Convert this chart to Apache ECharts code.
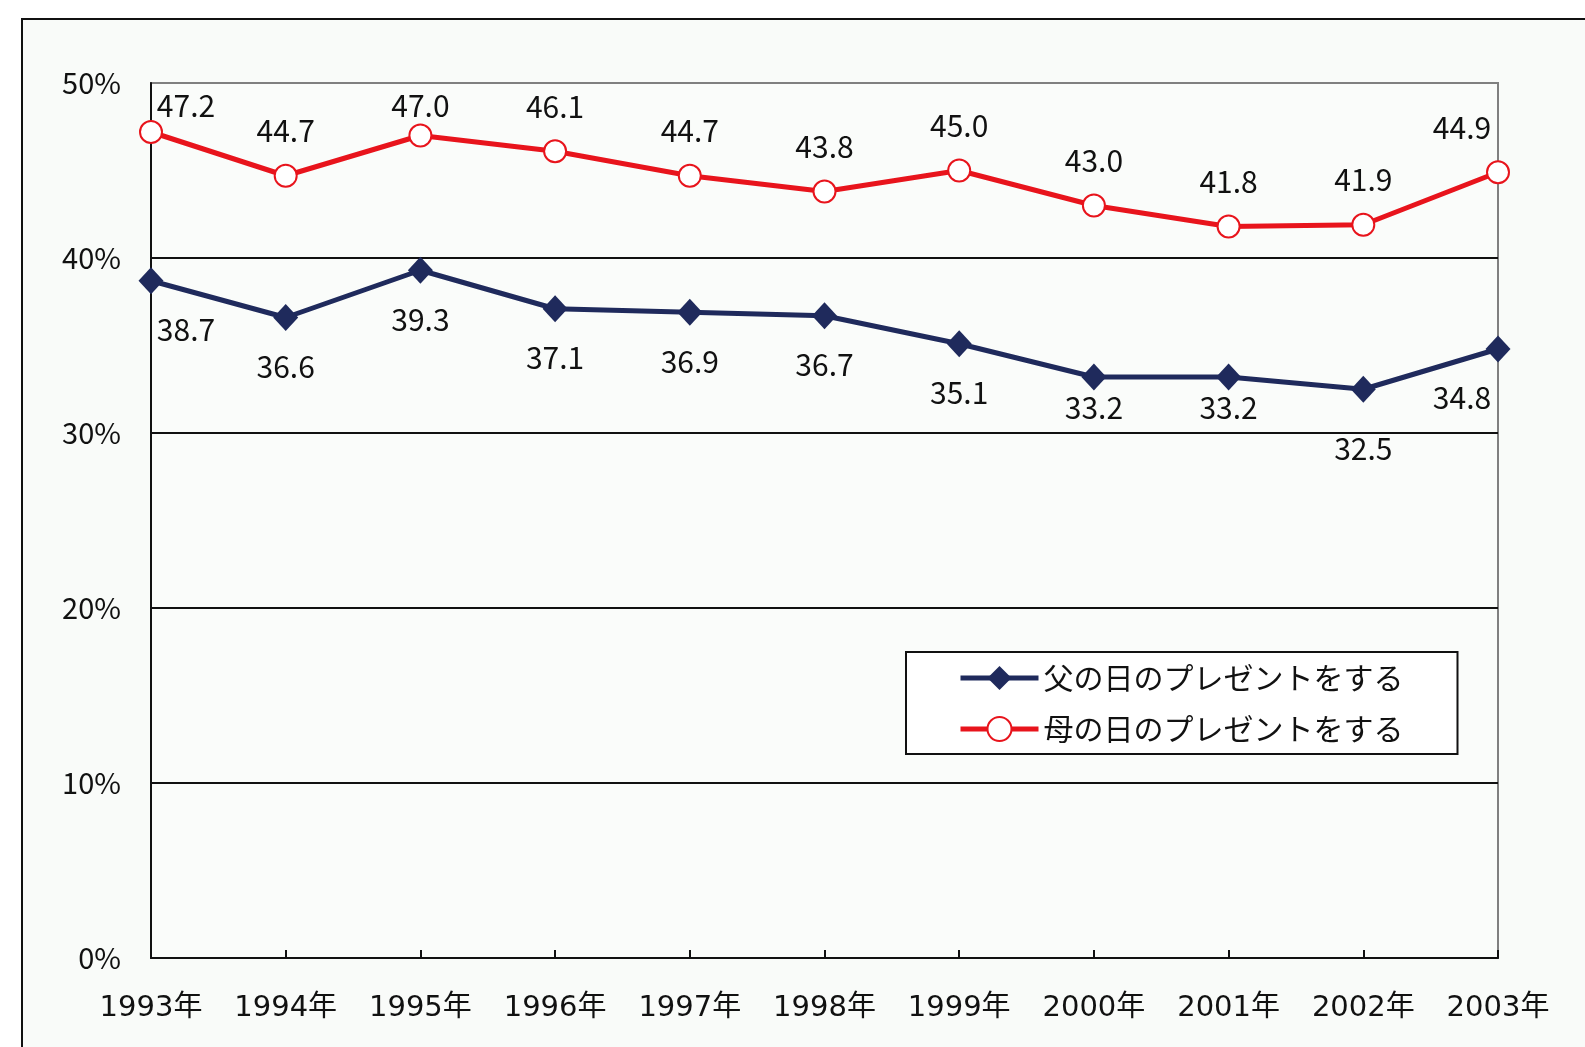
<!DOCTYPE html>
<html>
<head>
<meta charset="utf-8">
<script src="https://cdn.jsdelivr.net/npm/echarts@6/dist/echarts.min.js"></script>
<style>
  html, body { margin: 0; padding: 0; background: #ffffff; }
  #chart { width: 1585px; height: 1047px; }
</style>
</head>
<body>
<div id="chart"></div>
<script>
// ---- data ----
const years = ['1993年','1994年','1995年','1996年','1997年','1998年','1999年','2000年','2001年','2002年','2003年'];
const fatherValues = [38.7, 36.6, 39.3, 37.1, 36.9, 36.7, 35.1, 33.2, 33.2, 32.5, 34.8];
const motherValues = [47.2, 44.7, 47.0, 46.1, 44.7, 43.8, 45.0, 43.0, 41.8, 41.9, 44.9];
const seriesNames = ['父の日のプレゼントをする', '母の日のプレゼントをする'];
const yMin = 0, yMax = 50, yStep = 10;

// ---- style ----
const FONT = "'Noto Sans CJK JP', 'Liberation Sans', sans-serif";
const XFONT = "'DejaVu Sans', 'Noto Sans CJK JP', sans-serif";
const NAVY = '#1f2a5c';
const RED = '#e8141c';
const GRID = { left: 151, top: 83, right: 87, bottom: 89 };
const W = 1585, H = 1047;

const chart = echarts.init(document.getElementById('chart'), null, { renderer: 'canvas' });

const baseLabel = {
  show: true,
  position: 'inside',
  color: '#111',
  fontSize: 30,
  fontFamily: FONT,
  formatter: p => Number(p.value).toFixed(1)
};

const option = {
  animation: false,
  backgroundColor: '#ffffff',
  graphic: [{
    type: 'rect',
    z: -10,
    shape: { x: 22, y: 19, width: 1700, height: 1200 },
    style: { fill: '#f9fbf9', stroke: '#111', lineWidth: 2 }
  }],
  grid: {
    left: GRID.left, top: GRID.top, right: GRID.right, bottom: GRID.bottom,
    show: true,
    backgroundColor: '#fafcfa',
    borderColor: '#808080',
    borderWidth: 2
  },
  legend: {
    data: seriesNames,
    orient: 'vertical',
    left: 906,
    top: 652,
    padding: [10, 54, 9, 52],
    itemGap: 19,
    itemWidth: 78,
    itemHeight: 30,
    backgroundColor: '#ffffff',
    borderColor: '#111',
    borderWidth: 2,
    lineStyle: { width: 5 },
    textStyle: { color: '#111', fontSize: 30, fontFamily: FONT, lineHeight: 32 }
  },
  xAxis: {
    type: 'category',
    data: years,
    boundaryGap: false,
    axisLine: { show: true, lineStyle: { color: '#111', width: 2 } },
    axisTick: { show: true, inside: true, length: 8, lineStyle: { color: '#111', width: 2 } },
    axisLabel: { color: '#111', fontSize: 29, fontFamily: XFONT, margin: 36 },
    splitLine: { show: false }
  },
  yAxis: {
    type: 'value',
    min: yMin, max: yMax, interval: yStep,
    axisLine: { show: true, lineStyle: { color: '#111', width: 2 } },
    axisTick: { show: false },
    axisLabel: { color: '#111', fontSize: 29, fontFamily: FONT, margin: 30, formatter: '{value}%' },
    splitLine: { show: true, lineStyle: { color: ['#111','#111','#111','#111','#111','#808080'], width: 2 } }
  },
  series: [
    {
      name: seriesNames[0],
      type: 'line',
      data: fatherValues,
      symbol: 'diamond',
      symbolSize: [25, 27],
      lineStyle: { color: NAVY, width: 5 },
      itemStyle: { color: NAVY, borderColor: NAVY, borderWidth: 0 },
      label: baseLabel,
      z: 3
    },
    {
      name: seriesNames[1],
      type: 'line',
      data: motherValues,
      symbol: 'circle',
      symbolSize: 22,
      lineStyle: { color: RED, width: 5 },
      itemStyle: { color: '#ffffff', borderColor: RED, borderWidth: 2 },
      label: baseLabel,
      z: 4
    }
  ]
};

chart.setOption(option);

// Place data labels like the original: mother above, father below,
// kept inside the plot area and clear of the horizontal gridlines.
const plotL = GRID.left, plotR = W - GRID.right, plotT = GRID.top;
const gridYs = [];
for (let t = yMin + yStep; t < yMax; t += yStep) gridYs.push(chart.convertToPixel({ gridIndex: 0 }, [0, t])[1]);
const HALF_H = 11;
function withLabels(values, below) {
  return values.map((v, i) => {
    const [px, py] = chart.convertToPixel({ gridIndex: 0 }, [i, v]);
    const cx = Math.min(Math.max(px, plotL + 35), plotR - 36);
    let cy = below ? py + 49 : py - 45;
    if (!below) cy = Math.max(cy, plotT + 23);
    gridYs.forEach(gy => {
      if (cy + HALF_H > gy - 3 && cy - HALF_H < gy + 3) {
        const up = gy - HALF_H - 14, down = gy + HALF_H + 5;
        cy = (Math.abs(cy - up) < Math.abs(cy - down)) ? up : down;
      }
    });
    return { value: v, label: { offset: [cx - px, cy - py] } };
  });
}
chart.setOption({
  series: [
    { name: seriesNames[0], data: withLabels(fatherValues, true) },
    { name: seriesNames[1], data: withLabels(motherValues, false) }
  ]
});
</script>
</body>
</html>
